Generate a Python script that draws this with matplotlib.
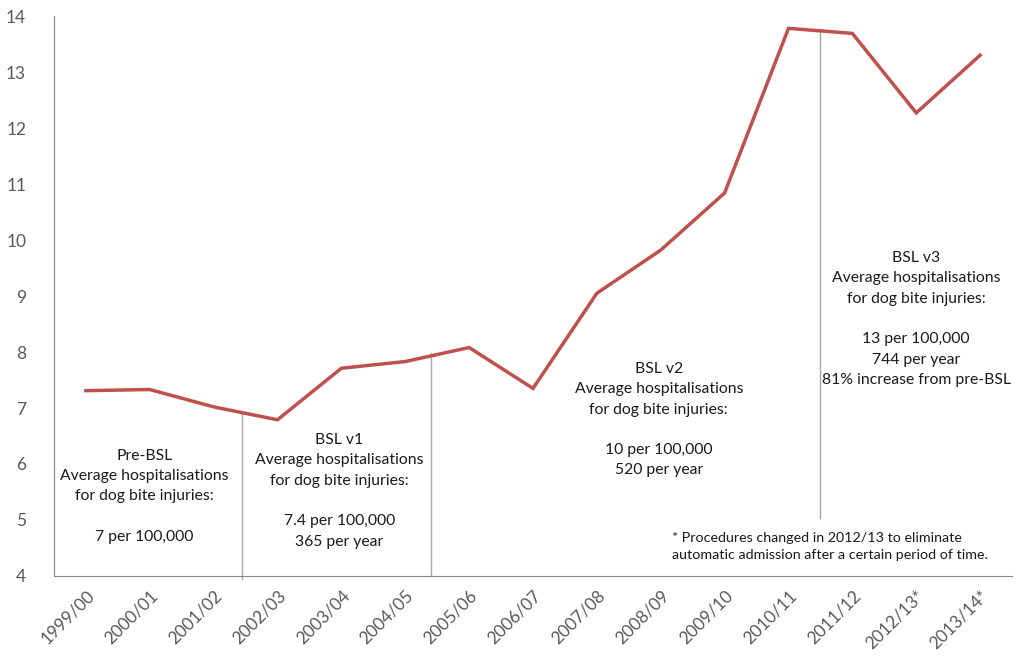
import matplotlib
matplotlib.use('Agg')
import matplotlib.pyplot as plt

plt.rcParams['font.family'] = ['Lato', 'DejaVu Sans']

years = ['1999/00', '2000/01', '2001/02', '2002/03', '2003/04', '2004/05', '2005/06',
         '2006/07', '2007/08', '2008/09', '2009/10', '2010/11', '2011/12', '2012/13*', '2013/14*']
rate = [7.31, 7.33, 7.02, 6.79, 7.71, 7.83, 8.08, 7.35, 9.05, 9.82, 10.84, 13.78, 13.69, 12.27, 13.30]

notes = [
    'Pre-BSL\nAverage hospitalisations\nfor dog bite injuries:\n\n7 per 100,000',
    'BSL v1\nAverage hospitalisations\nfor dog bite injuries:\n\n7.4 per 100,000\n365 per year',
    'BSL v2\nAverage hospitalisations\nfor dog bite injuries:\n\n10 per 100,000\n520 per year',
    'BSL v3\nAverage hospitalisations\nfor dog bite injuries:\n\n13 per 100,000\n744 per year\n81% increase from pre-BSL',
]
footnote = '* Procedures changed in 2012/13 to eliminate\nautomatic admission after a certain period of time.'

fig = plt.figure(figsize=(10.26, 6.57), dpi=100)
ax = fig.add_axes([0.0526, 0.1233, 0.9338, 0.8523])

x = list(range(len(years)))
ax.plot(x, rate, color='#C0504D', linewidth=2.5, solid_joinstyle='miter', zorder=3)

# period separators
sep_col = '#A6A6A6'
ax.plot([2.45, 2.45], [6.91, 3.95], color=sep_col, lw=1, clip_on=False, zorder=2)
ax.plot([5.4, 5.4], [7.98, 4.0], color=sep_col, lw=1, clip_on=False, zorder=2)
ax.plot([11.5, 11.5], [13.77, 5.04], color=sep_col, lw=1, clip_on=False, zorder=2)

txt = dict(ha='center', va='top', fontsize=11.3, color='#1a1a1a', linespacing=1.57)
ax.text(0.92, 6.27, notes[0], **txt)
ax.text(3.97, 6.55, notes[1], **txt)
ax.text(8.97, 7.82, notes[2], **txt)
ax.text(13.0, 9.80, notes[3], **txt)
ax.text(9.17, 4.79, footnote, ha='left', va='top', fontsize=10.3, color='#1a1a1a', linespacing=1.52)

ax.set_xlim(-0.5, 14.5)
ax.set_ylim(4, 14)
ax.set_yticks(range(4, 15))
ax.set_xticks(x)
ax.set_xticklabels(years, rotation=45, ha='right', rotation_mode='anchor')
ax.tick_params(axis='both', length=0, labelsize=12.5, labelcolor='#595959')
ax.tick_params(axis='x', pad=8, labelsize=12.5)
ax.tick_params(axis='y', pad=20)
for s in ['top', 'right']:
    ax.spines[s].set_visible(False)
for s in ['left', 'bottom']:
    ax.spines[s].set_color('#868686')

plt.savefig('out.png', dpi=100)
